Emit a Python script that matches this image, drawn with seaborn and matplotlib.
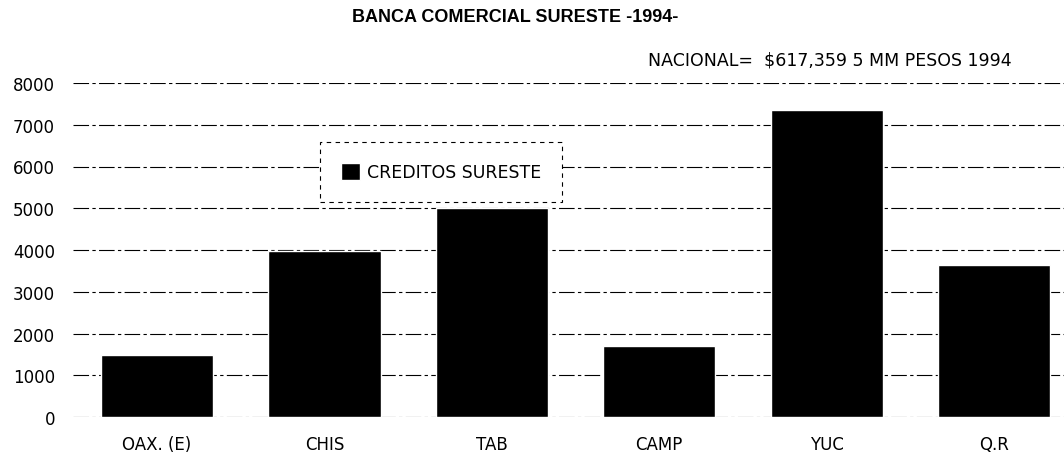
import matplotlib
matplotlib.use("Agg")
import matplotlib.pyplot as plt
import pandas as pd
import seaborn as sns

# data
estados = ["OAX. (E)", "CHIS", "TAB", "CAMP", "YUC", "Q.R"]
creditos = [1490, 3980, 5000, 1700, 7350, 3650]
yticks = [0, 1000, 2000, 3000, 4000, 5000, 6000, 7000, 8000]

df = pd.DataFrame({"estado": estados, "creditos": creditos})

sns.set_style("white")
plt.rcParams["font.family"] = ["DejaVu Sans"]
plt.rcParams["text.color"] = "black"
plt.rcParams["xtick.color"] = "black"
plt.rcParams["ytick.color"] = "black"

fig = plt.figure(figsize=(10.64, 4.56), dpi=100)
ax = fig.add_axes([73 / 1064, 38 / 456, 991 / 1064, 334 / 456])

sns.barplot(data=df, x="estado", y="creditos", color="black", width=0.67,
            saturation=1, label="CREDITOS SURESTE", ax=ax, zorder=3)

ax.set_xlim(-0.502, 5.418)
ax.set_ylim(0, 8000)
ax.set_yticks(yticks)
ax.yaxis.grid(True, color="black", linewidth=0.8, linestyle=(0, (14, 3, 3, 3)), zorder=0)
ax.set_axisbelow(True)
for s in ax.spines.values():
    s.set_visible(False)
ax.tick_params(axis="x", length=0, labelsize=12, pad=13)
ax.tick_params(axis="y", length=0, labelsize=12, pad=13)
ax.set_xlabel("")
ax.set_ylabel("")

leg = ax.legend(loc="upper left", bbox_to_anchor=(0.249, 0.823), borderaxespad=0,
                fontsize=12.5, frameon=True, fancybox=False, framealpha=1,
                handlelength=1.1, handleheight=1.1, borderpad=1.2, handletextpad=0.4)
leg.get_frame().set_edgecolor("black")
leg.get_frame().set_linestyle((0, (4, 4)))
leg.get_frame().set_linewidth(0.8)

fig.text(515 / 1064, 1 - 17 / 456, "BANCA COMERCIAL SURESTE -1994-", ha="center",
         va="center", fontsize=13, fontweight="bold", family="Liberation Sans")
fig.text(1012 / 1064, 1 - 60 / 456, "NACIONAL=  $617,359 5 MM PESOS 1994", ha="right",
         va="center", fontsize=12.5)

fig.savefig("out.png", dpi=100)
